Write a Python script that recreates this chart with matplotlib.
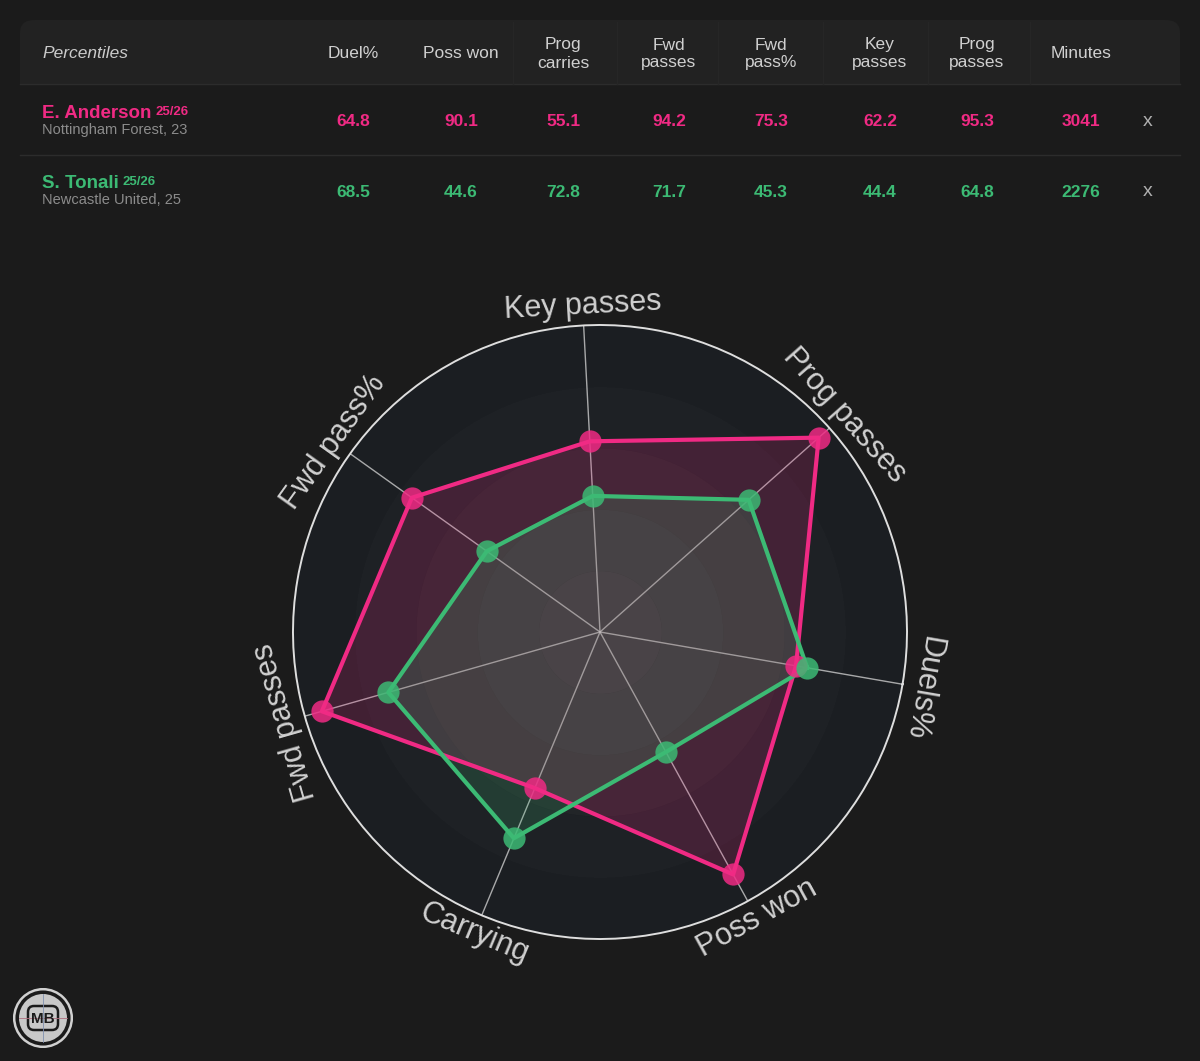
import numpy as np
import matplotlib
matplotlib.use("Agg")
import matplotlib.pyplot as plt
from matplotlib.patches import FancyBboxPatch, Circle

plt.rcParams['font.family'] = ['Liberation Sans', 'DejaVu Sans']

# data
table_cols = ['Duel%', 'Poss won', 'Prog\ncarries', 'Fwd\npasses', 'Fwd\npass%',
              'Key\npasses', 'Prog\npasses', 'Minutes']
radar_labels = ['Duels%', 'Poss won', 'Carrying', 'Fwd passes', 'Fwd pass%',
                'Key passes', 'Prog passes']
players = ['E. Anderson', 'S. Tonali']
seasons = ['25/26', '25/26']
teams = ['Nottingham Forest, 23', 'Newcastle United, 25']
anderson = [64.8, 90.1, 55.1, 94.2, 75.3, 62.2, 95.3]
tonali = [68.5, 44.6, 72.8, 71.7, 45.3, 44.4, 64.8]
minutes = [3041, 2276]

BG = '#1b1b1b'
PINK = '#f02a84'
GREEN = '#3cba74'
colors = [PINK, GREEN]

W, H = 1200, 1061
fig = plt.figure(figsize=(W / 100, H / 100), dpi=100, facecolor=BG)


def fx(x):
    return x / W


def fy(y):
    return 1 - y / H


# ---- table ----
header = FancyBboxPatch((fx(20), fy(84)), fx(1160), 64 / H,
                        boxstyle="round,pad=0,rounding_size=0.012",
                        transform=fig.transFigure, facecolor='#222222',
                        edgecolor='none', zorder=0)
fig.patches.append(header)
# square off the bottom corners of the header
fig.patches.append(plt.Rectangle((fx(20), fy(84)), fx(1160), 20 / H,
                                 transform=fig.transFigure, facecolor='#222222',
                                 edgecolor='none', zorder=0))
for y in [84, 155]:
    fig.add_artist(plt.Line2D([fx(20), fx(1180)], [fy(y), fy(y)],
                              color='#2c2c2c', lw=1))
for x in [513, 617, 718, 823, 928, 1030]:
    fig.add_artist(plt.Line2D([fx(x), fx(x)], [fy(22), fy(84)],
                              color='#262626', lw=1))

fig.text(fx(42), fy(54), 'Percentiles', fontsize=12.5, style='italic',
         color='#cccccc', va='center')
col_x = [353, 461, 563, 669, 771, 880, 977, 1081]
for cx, c in zip(col_x, table_cols):
    fig.text(fx(cx), fy(54), c, fontsize=12.5, color='#d0d0d0',
             ha='center', va='center', linespacing=1.25)

row_y = [122, 192]
vals = [anderson, tonali]
fig.canvas.draw()
rend = fig.canvas.get_renderer()
for i in range(2):
    ry = row_y[i]
    t = fig.text(fx(42), fy(ry - 9), players[i], fontsize=13.5, weight='bold',
                 color=colors[i], va='center')
    bb = t.get_window_extent(renderer=rend)
    fig.text(fx(bb.x1 + 4), fy(ry - 10), seasons[i], fontsize=9.5,
             weight='bold', color=colors[i], va='center')
    fig.text(fx(42), fy(ry + 8), teams[i], fontsize=10.5, color='#8c8c8c',
             va='center')
    for cx, v in zip(col_x[:-1], vals[i]):
        fig.text(fx(cx), fy(ry), f'{v:.1f}', fontsize=12.5, weight='bold',
                 color=colors[i], ha='center', va='center')
    fig.text(fx(col_x[-1]), fy(ry), str(minutes[i]), fontsize=12.5,
             weight='bold', color=colors[i], ha='center', va='center')
    fig.text(fx(1148), fy(ry - 1), 'x', fontsize=14, color='#b0b0b0',
             ha='center', va='center')

# ---- radar ----
cx0, cy0, R = 600, 632, 307
ax = fig.add_axes([fx(cx0 - R), fy(cy0 + R), 2 * R / W, 2 * R / H],
                  projection='polar')
offset = -9.8
ax.set_theta_offset(np.radians(offset))
ax.set_theta_direction(-1)
ax.set_ylim(0, 100)
ax.set_facecolor('#1b1e22')
ax.grid(False)
ax.set_xticks([])
ax.set_yticks([])
ax.spines['polar'].set_color('#dedede')
ax.spines['polar'].set_linewidth(1.4)

tt = np.linspace(0, 2 * np.pi, 361)
ring_cols = ['#292b2f', '#25282b', '#222528', '#1e2125', '#1b1e22']
edges = [0, 20, 40, 60, 80]
for r0, c in zip(edges, ring_cols):
    ax.fill_between(tt, r0, r0 + 20, color=c, lw=0, zorder=0)

n = len(radar_labels)
angles = np.arange(n) * 2 * np.pi / n
for a in angles:
    ax.plot([a, a], [0, 100], color='#d8d8d8', lw=1, alpha=0.75, zorder=1)

closed = np.append(angles, angles[0])
for v, c in zip([anderson, tonali], colors):
    vv = np.append(v, v[0])
    ax.fill(closed, vv, color=c, alpha=0.18, lw=0, zorder=2)
    ax.plot(closed, vv, color=c, lw=3, zorder=3)
    ax.plot(angles, v, 'o', color=c, ms=16, alpha=0.85, mec='none', zorder=4)

for a, lab in zip(angles, radar_labels):
    deg = offset - np.degrees(a)
    if np.sin(np.radians(deg)) < -0.5:
        rot = deg + 90
    else:
        rot = deg - 90
    ax.text(a, 106.5, lab, fontsize=22, color='#d0d0d0', rotation=rot,
            rotation_mode='anchor', ha='center', va='center', clip_on=False)

# ---- logo ----
lax = fig.add_axes([fx(13), fy(1048), 60 / W, 60 / H])
lax.set_xlim(-1, 1)
lax.set_ylim(-1, 1)
lax.set_aspect('equal')
lax.axis('off')
lax.add_patch(Circle((0, 0), 0.96, facecolor='#1b1b1b', edgecolor='#d0d0d0', lw=1.8))
lax.add_patch(Circle((0, 0), 0.80, facecolor='#c8c8c8', edgecolor='none'))
lax.plot([-0.8, 0.8], [0, 0], color='#b07080', lw=0.6)
lax.plot([0, 0], [-0.8, 0.8], color='#8090b0', lw=0.6)
lax.add_patch(FancyBboxPatch((-0.5, -0.4), 1.0, 0.8,
                             boxstyle="round,pad=0,rounding_size=0.2",
                             facecolor='#c8c8c8', edgecolor='#1b1b1b', lw=1.8))
lax.text(0, -0.02, 'MB', fontsize=11, weight='bold', color='#1b1b1b',
         ha='center', va='center')

fig.savefig('out.png', dpi=100, facecolor=BG)
